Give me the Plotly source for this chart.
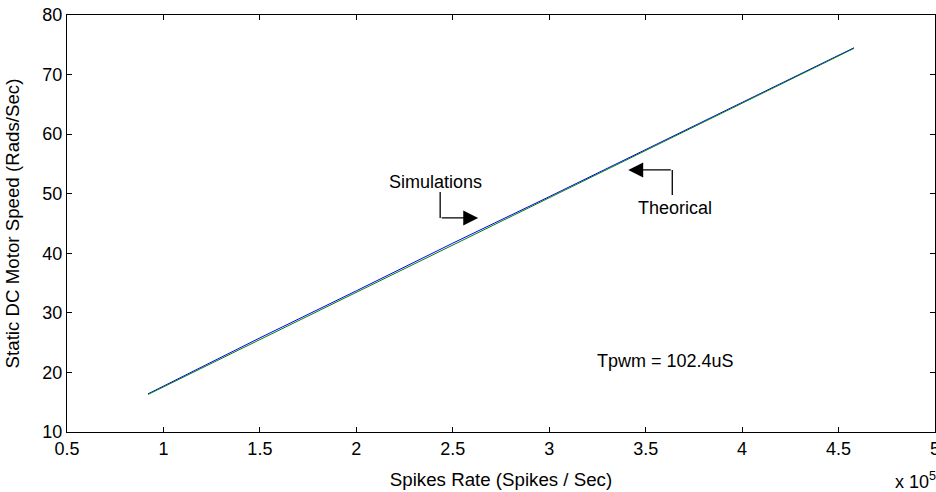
import plotly.graph_objects as go

# Data (x in units of 1e5 spikes/sec)
sim_x = [0.92, 1.5, 2.0, 2.5, 3.0, 3.5, 4.0, 4.58]
sim_y = [16.4, 25.8, 33.7, 41.7, 49.5, 57.4, 65.4, 74.5]
theo_x = [0.92, 1.5, 2.0, 2.5, 3.0, 3.5, 4.0, 4.58]
theo_y = [16.3, 25.5, 33.45, 41.4, 49.3, 57.25, 65.2, 74.4]
x_ticks = [0.5, 1, 1.5, 2, 2.5, 3, 3.5, 4, 4.5, 5]
x_ticktext = ["0.5", "1", "1.5", "2", "2.5", "3", "3.5", "4", "4.5", "5"]

FONT = "Liberation Sans, Arial, sans-serif"
FS = 18
FST = 18.7

fig = go.Figure()
fig.add_trace(go.Scatter(x=sim_x, y=sim_y, mode="lines", name="Simulations",
                         line=dict(color="#0000ff", width=1)))
fig.add_trace(go.Scatter(x=theo_x, y=theo_y, mode="lines", name="Theorical",
                         line=dict(color="#008000", width=1)))

def px2x(px):
    return 0.5 + (px - 67) / 192.8

def py2y(py):
    return 80 - (py - 15) / 5.96

# Simulations label and elbow arrow
fig.add_annotation(x=px2x(435), y=py2y(182), text="Simulations", showarrow=False,
                   font=dict(family=FONT, size=FS, color="black"))
fig.add_shape(type="line", x0=px2x(440), y0=py2y(192), x1=px2x(440), y1=py2y(218),
              line=dict(color="black", width=1.3))
fig.add_annotation(x=px2x(478), y=py2y(218), ax=px2x(440), ay=py2y(218),
                   xref="x", yref="y", axref="x", ayref="y", text="",
                   showarrow=True, arrowhead=2, arrowsize=2.3, arrowwidth=1.3,
                   arrowcolor="black")

# Theorical label and elbow arrow
fig.add_annotation(x=px2x(675), y=py2y(208), text="Theorical", showarrow=False,
                   font=dict(family=FONT, size=FS, color="black"))
fig.add_shape(type="line", x0=px2x(672), y0=py2y(170), x1=px2x(672), y1=py2y(195),
              line=dict(color="black", width=1.3))
fig.add_annotation(x=px2x(628), y=py2y(170), ax=px2x(672), ay=py2y(170),
                   xref="x", yref="y", axref="x", ayref="y", text="",
                   showarrow=True, arrowhead=2, arrowsize=2.3, arrowwidth=1.3,
                   arrowcolor="black")

fig.add_annotation(x=px2x(665), y=py2y(361), text="Tpwm = 102.4uS", showarrow=False,
                   font=dict(family=FONT, size=FS, color="black"))

# x 10^5 multiplier
fig.add_annotation(xref="paper", yref="paper", x=1.0, y=-0.142, xanchor="right",
                   yanchor="bottom", text="x 10<sup>5</sup>", showarrow=False,
                   xshift=3, yshift=-3,
                   font=dict(family=FONT, size=FS, color="black"))

axis_common = dict(showgrid=False, zeroline=False, showline=True, linecolor="black",
                   linewidth=1, mirror="allticks", ticks="inside", ticklen=5,
                   tickcolor="black", tickfont=dict(family=FONT, size=FS, color="black"),
                   ticklabeloverflow="allow")

fig.update_xaxes(range=[0.5, 5], tickmode="array", tickvals=x_ticks, ticktext=x_ticktext,
                 title=dict(text="Spikes Rate (Spikes / Sec)", standoff=15,
                            font=dict(family=FONT, size=FST, color="black")),
                 **axis_common)
fig.update_yaxes(range=[10, 80], dtick=10,
                 title=dict(text="Static DC Motor Speed (Rads/Sec)", standoff=17,
                            font=dict(family=FONT, size=FST, color="black")),
                 **axis_common)

fig.update_layout(width=936, height=492, showlegend=False,
                  paper_bgcolor="white", plot_bgcolor="white",
                  margin=dict(l=67, r=1, t=15, b=60, autoexpand=False))

fig.write_html("out.html")
